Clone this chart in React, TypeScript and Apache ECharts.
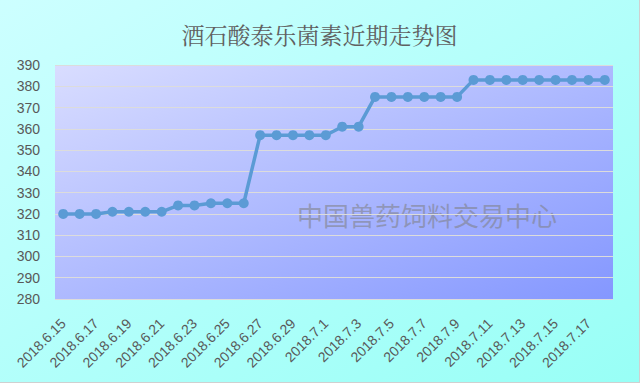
import React, { useEffect, useRef } from "react";
import * as echarts from "echarts";

const title = "酒石酸泰乐菌素近期走势图";
const watermark = "中国兽药饲料交易中心";
const dates = [
  "2018.6.15", "2018.6.16", "2018.6.17", "2018.6.18", "2018.6.19", "2018.6.20",
  "2018.6.21", "2018.6.22", "2018.6.23", "2018.6.24", "2018.6.25", "2018.6.26",
  "2018.6.27", "2018.6.28", "2018.6.29", "2018.6.30", "2018.7.1", "2018.7.2",
  "2018.7.3", "2018.7.4", "2018.7.5", "2018.7.6", "2018.7.7", "2018.7.8",
  "2018.7.9", "2018.7.10", "2018.7.11", "2018.7.12", "2018.7.13", "2018.7.14",
  "2018.7.15", "2018.7.16", "2018.7.17", "2018.7.18",
];
const prices = [
  320, 320, 320, 321, 321, 321, 321, 324, 324, 325, 325, 325,
  357, 357, 357, 357, 357, 361, 361, 375, 375, 375, 375, 375,
  375, 383, 383, 383, 383, 383, 383, 383, 383, 383,
];
const yMin = 280;
const yMax = 390;
const yStep = 10;

export default function App() {
  const ref = useRef<HTMLDivElement>(null);
  useEffect(() => {
    document.body.style.margin = "0";
    const chart = echarts.init(ref.current!, undefined, { renderer: "svg" });
    chart.setOption({
      animation: false,
      title: {
        text: title,
        left: "center",
        top: 18,
        textStyle: {
          fontFamily: "'Noto Serif CJK SC', 'Noto Sans CJK SC', serif",
          fontSize: 23,
          fontWeight: "normal",
          color: "#606060",
        },
      },
      grid: {
        left: 55,
        right: 26,
        top: 65,
        bottom: 83,
        show: true,
        borderWidth: 0,
        backgroundColor: new echarts.graphic.LinearGradient(0, 0, 1, 1, [
          { offset: 0, color: "#d9ddff" },
          { offset: 1, color: "#8497ff" },
        ]),
      },
      xAxis: {
        type: "category",
        data: dates,
        boundaryGap: true,
        axisLine: { show: false },
        axisTick: { show: false },
        axisLabel: {
          interval: 1,
          rotate: 45,
          color: "#595959",
          fontSize: 14,
          fontFamily: "'Liberation Sans', sans-serif",
          margin: 22,
        },
      },
      yAxis: {
        type: "value",
        min: yMin,
        max: yMax,
        interval: yStep,
        axisLine: { show: false },
        axisTick: { show: false },
        axisLabel: {
          color: "#595959",
          fontSize: 14,
          fontFamily: "'Liberation Sans', sans-serif",
          margin: 15,
        },
        splitLine: { lineStyle: { color: "#dcdcdc", width: 1.2 } },
      },
      graphic: [
        {
          type: "text",
          left: 297,
          top: 201,
          z: 0,
          style: {
            text: watermark,
            fontSize: 26,
            fontFamily: "'Noto Sans CJK SC', sans-serif",
            fill: "rgba(125,125,125,0.55)",
          },
        },
      ],
      series: [
        {
          type: "line",
          data: prices,
          symbol: "circle",
          symbolSize: 10,
          lineStyle: { color: "#5b9bd5", width: 3.5 },
          itemStyle: { color: "#5b9bd5" },
          z: 5,
        },
      ],
    });
    return () => chart.dispose();
  }, []);
  return (
    <div
      style={{
        width: 640,
        height: 383,
        boxSizing: "border-box",
        background: "linear-gradient(to bottom right, #cdffff, #98fff6)",
        borderRight: "1px solid #d0d0d0",
        borderBottom: "1px solid #d0d0d0",
      }}
    >
      <div ref={ref} style={{ width: 639, height: 382 }} />
    </div>
  );
}
